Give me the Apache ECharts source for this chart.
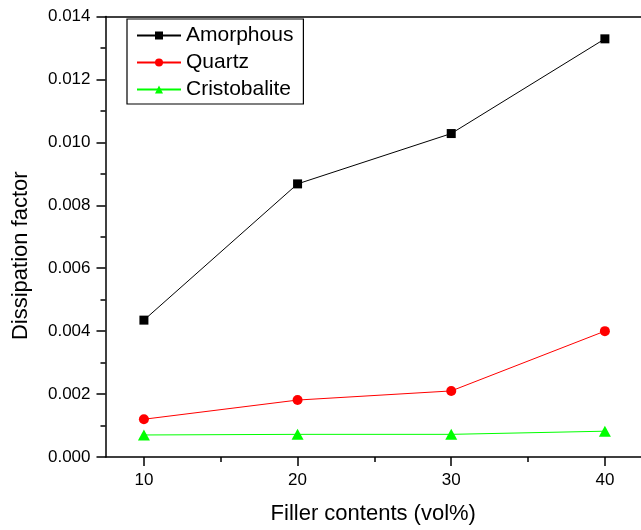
<!DOCTYPE html>
<html>
<head>
<meta charset="utf-8">
<script src="https://cdn.jsdelivr.net/npm/echarts@6/dist/echarts.min.js"></script>
<style>html,body{margin:0;padding:0;background:#fff;}#c{width:641px;height:530px;}</style>
</head>
<body>
<div id="c"></div>
<script>
const fillerContents = [10, 20, 30, 40];
const amorphous = [0.00435, 0.00868, 0.01028, 0.01329];
const quartz = [0.00120, 0.00181, 0.00210, 0.00400];
const cristobalite = [0.00070, 0.00072, 0.00072, 0.00082];
const xTickValues = [10, 20, 30, 40];
const xMinorValues = [15, 25, 35];
const seriesNames = ['Amorphous', 'Quartz', 'Cristobalite'];
const xTitle = 'Filler contents (vol%)';
const yTitle = 'Dissipation factor';

const FONT = 'Liberation Sans, Arial, sans-serif';
const chart = echarts.init(document.getElementById('c'), null, {renderer: 'canvas'});
const pairs = arr => fillerContents.map((x, i) => [x, arr[i]]);
const axisLine = {show: true, onZero: false, lineStyle: {color: '#000', width: 1.5}};
chart.setOption({
  animation: false,
  backgroundColor: '#fff',
  grid: {left: 105.5, right: 0, top: 16.5, bottom: 69, containLabel: false},
  xAxis: [
    {
      type: 'value', min: 7.5, max: 42.35,
      name: xTitle, nameLocation: 'middle', nameGap: 46,
      nameTextStyle: {fontFamily: FONT, fontSize: 22, color: '#000'},
      axisLine: axisLine,
      axisTick: {show: true, inside: false, length: 9, lineStyle: {color: '#000', width: 1.5}, customValues: xTickValues},
      axisLabel: {show: true, fontFamily: FONT, fontSize: 17, color: '#000', margin: 15, customValues: xTickValues},
      splitLine: {show: false}
    },
    {
      type: 'value', min: 7.5, max: 42.35, position: 'bottom',
      axisLine: {show: false},
      axisTick: {show: true, length: 5, lineStyle: {color: '#000', width: 1.5}, customValues: xMinorValues},
      axisLabel: {show: false},
      splitLine: {show: false}
    },
    {
      type: 'value', min: 7.5, max: 42.35, position: 'top',
      axisLine: axisLine,
      axisTick: {show: false}, axisLabel: {show: false}, splitLine: {show: false}
    }
  ],
  yAxis: [{
    type: 'value', min: 0, max: 0.014, interval: 0.002,
    name: yTitle, nameLocation: 'middle', nameGap: 74,
    nameTextStyle: {fontFamily: FONT, fontSize: 22, color: '#000', padding: [0, 38, 0, 0]},
    axisLine: axisLine,
    axisTick: {show: true, length: 9, lineStyle: {color: '#000', width: 1.5}},
    minorTick: {show: true, splitNumber: 2, length: 5, lineStyle: {color: '#000', width: 1.5}},
    axisLabel: {fontFamily: FONT, fontSize: 17, color: '#000', margin: 15, formatter: v => v.toFixed(3)},
    splitLine: {show: false}
  }],
  legend: {
    orient: 'vertical', left: 127, top: 19,
    borderColor: '#000', borderWidth: 1.2,
    padding: [6, 10, 4, 9],
    itemWidth: 44, itemHeight: 10, itemGap: 6,
    textStyle: {fontFamily: FONT, fontSize: 21, color: '#000', lineHeight: 21},
    data: seriesNames
  },
  series: [
    {name: seriesNames[0], type: 'line', data: pairs(amorphous), symbol: 'rect', symbolSize: 9,
     itemStyle: {color: '#000'}, lineStyle: {color: '#000', width: 1}},
    {name: seriesNames[1], type: 'line', data: pairs(quartz), symbol: 'circle', symbolSize: 10,
     itemStyle: {color: '#ff0000'}, lineStyle: {color: '#ff0000', width: 1}},
    {name: seriesNames[2], type: 'line', data: pairs(cristobalite), symbol: 'triangle', symbolSize: [12, 11],
     itemStyle: {color: '#00ff00'}, lineStyle: {color: '#00ff00', width: 1}}
  ]
});
</script>
</body>
</html>
